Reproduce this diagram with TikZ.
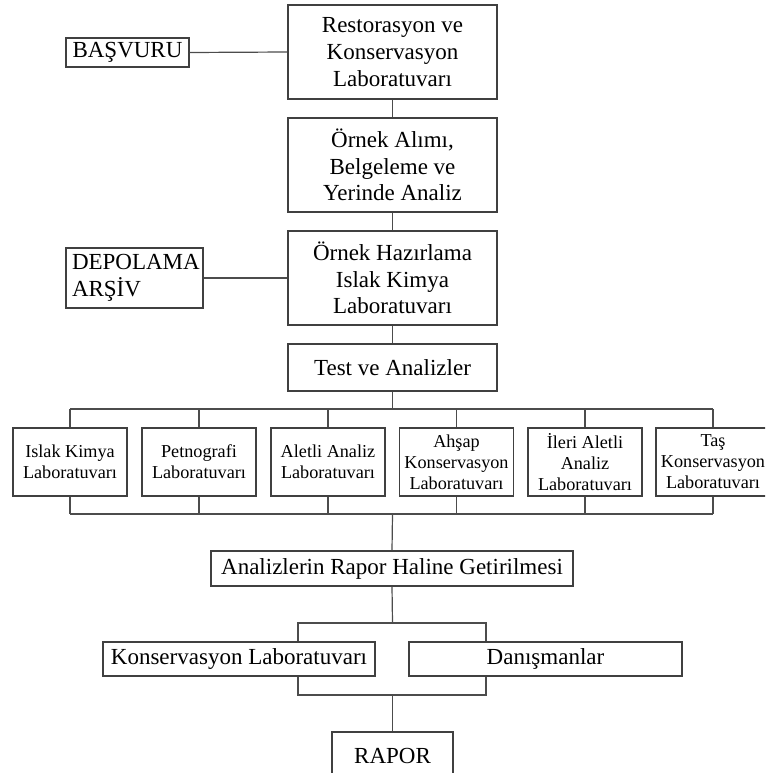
\documentclass[tikz,border=0pt]{standalone}
\usepackage{fontspec}
\setmainfont{Liberation Serif}
\begin{document}
\begin{tikzpicture}[x=1pt,y=-1pt,
  box/.style={draw=black!75, line width=1.2pt, rectangle, inner sep=0pt, align=center,
    font=\fontsize{23}{26.7}\selectfont},
  bigbox/.style={box, minimum width=209pt, minimum height=94pt},
  labbox/.style={box, minimum width=114pt, minimum height=68pt,
    font=\fontsize{18.2}{21}\selectfont},
  link/.style={draw=black!70, line width=1.2pt}]
\useasboundingbox (0,0) rectangle (765,773);
\clip (0,0) rectangle (765,773);

\node[bigbox] (restor) at (392.5,52) {Restorasyon ve\\Konservasyon\\Laboratuvarı};
\node[box, minimum width=123pt, minimum height=29pt] (basv) at (127.5,52.5) {BAŞVURU};
\node[bigbox] (ornek) at (392.5,165) {Örnek Alımı,\\Belgeleme ve\\Yerinde Analiz};
\node[bigbox] (hazir) at (392.5,278) {Örnek Hazırlama\\Islak Kimya\\Laboratuvarı};
\node[box, minimum width=137pt, minimum height=60pt, align=left, text width=125pt] (depo) at (134.5,278) {DEPOLAMA\\ARŞİV};
\node[box, minimum width=209pt, minimum height=47pt] (test) at (392.5,367.5) {Test ve Analizler};

\node[labbox] (l1) at (70,462) {Islak Kimya\\Laboratuvarı};
\node[labbox] (l2) at (199,462) {Petnografi\\Laboratuvarı};
\node[labbox] (l3) at (328,462) {Aletli Analiz\\Laboratuvarı};
\node[labbox] (l4) at (456.5,462) {Ahşap\\Konservasyon\\Laboratuvarı};
\node[labbox] (l5) at (585,462) {İleri Aletli\\Analiz\\Laboratuvarı};
\node[labbox] (l6) at (713,462) {Taş\\Konservasyon\\Laboratuvarı};

\node[box, minimum width=362pt, minimum height=35pt] (analiz) at (392,568.5) {Analizlerin Rapor Haline Getirilmesi};
\node[box, minimum width=272pt, minimum height=34pt] (konslab) at (239,659) {Konservasyon Laboratuvarı};
\node[box, minimum width=273pt, minimum height=34pt] (danis) at (545.5,659) {Danışmanlar};
\node[box, minimum width=121pt, minimum height=48pt] (rapor) at (392.5,756) {RAPOR};

\coordinate (bt) at (392.5,409);
\coordinate (bb) at (392.5,514);
\coordinate (kt1) at (298,623);
\coordinate (kt2) at (486,623);
\coordinate (kb1) at (298,695);
\coordinate (kb2) at (486,695);
\coordinate (ct) at (392.5,623);
\coordinate (cb) at (392.5,695);

\draw[link] (basv.east) -- (restor.west);
\draw[link] (restor.south) -- (ornek.north);
\draw[link] (ornek.south) -- (hazir.north);
\draw[link] (depo.east) -- (hazir.west);
\draw[link] (hazir.south) -- (test.north);
\draw[link] (test.south) -- (bt);
\draw[link] (l1.north |- bt) -- (l6.north |- bt);
\draw[link] (l1.south |- bb) -- (l6.south |- bb);
\foreach \l in {l1,l2,l3,l4,l5,l6}{
  \draw[link] (\l.north) -- (\l.north |- bt);
  \draw[link] (\l.south) -- (\l.south |- bb);
}
\draw[link] (bb) -- (analiz.north);
\draw[link] (analiz.south) -- (ct);
\draw[link] (kt1 |- konslab.north) -- (kt1) -- (kt2) -- (kt2 |- danis.north);
\draw[link] (kb1 |- konslab.south) -- (kb1) -- (kb2) -- (kb2 |- danis.south);
\draw[link] (cb) -- (rapor.north);
\end{tikzpicture}
\end{document}
